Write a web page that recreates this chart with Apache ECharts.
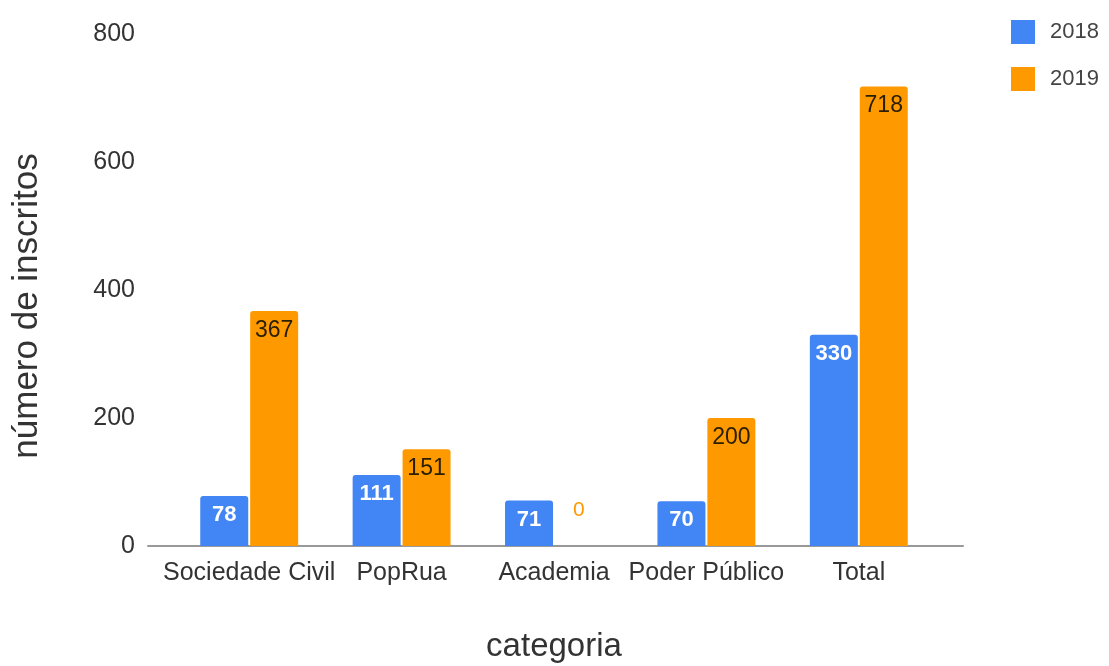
<!DOCTYPE html>
<html>
<head>
<meta charset="utf-8">
<script src="https://cdn.jsdelivr.net/npm/echarts@6/dist/echarts.min.js"></script>
<style>
  html, body { margin: 0; padding: 0; background: #fff; }
  #chart { width: 1109px; height: 666px; }
</style>
</head>
<body>
<div id="chart"></div>
<script>
// Inscritos por categoria, 2018 x 2019
const categories = ['Sociedade Civil', 'PopRua', 'Academia', 'Poder Público', 'Total'];
const years = ['2018', '2019'];
const values2018 = [78, 111, 71, 70, 330];
const values2019 = [367, 151, 0, 200, 718];
const yTicks = [0, 200, 400, 600, 800];

const FONT = '"Liberation Sans", Arial, sans-serif';
const BLUE = '#4285f4';
const ORANGE = '#ff9900';

const yMin = yTicks[0];
const yMax = yTicks[yTicks.length - 1];
const yStep = yTicks[1] - yTicks[0];

// zero-height bars carry their label above the baseline, in the series colour
function withZeroLabels(values, color) {
  return values.map(v => v === 0
    ? { value: v, label: { position: 'top', distance: 25, color: color, fontWeight: 'normal', fontSize: 21 } }
    : v);
}

const chart = echarts.init(document.getElementById('chart'), null, { renderer: 'canvas' });

chart.setOption({
  backgroundColor: '#ffffff',
  animation: false,
  textStyle: { fontFamily: FONT },
  legend: {
    orient: 'vertical',
    left: 1006,
    top: 15,
    itemWidth: 24,
    itemHeight: 24,
    itemGap: 23,
    icon: 'rect',
    data: years,
    textStyle: { fontFamily: FONT, fontSize: 22, color: '#444', padding: [0, 0, 0, 10] }
  },
  grid: [
    // bars
    { left: 173, right: 174, top: 34, bottom: 120, outerBoundsMode: 'none' },
    // baseline and value scale
    { left: 148, right: 146, top: 34, bottom: 120, outerBoundsMode: 'none' }
  ],
  xAxis: [
    {
      type: 'category',
      gridIndex: 0,
      data: categories,
      axisLine: { show: false },
      axisTick: { show: false },
      axisLabel: { fontFamily: FONT, fontSize: 25, color: '#333', margin: 15, interval: 0 },
      name: 'categoria',
      nameLocation: 'middle',
      nameGap: 84,
      nameTextStyle: { fontFamily: FONT, fontSize: 33, color: '#333' }
    },
    {
      type: 'value',
      gridIndex: 1,
      min: 0,
      max: 1,
      axisLine: { show: true, lineStyle: { color: '#999', width: 2 } },
      axisTick: { show: false },
      axisLabel: { show: false },
      splitLine: { show: false }
    }
  ],
  yAxis: [
    {
      type: 'value',
      gridIndex: 0,
      min: yMin,
      max: yMax,
      interval: yStep,
      show: false,
      splitLine: { show: false }
    },
    {
      type: 'value',
      gridIndex: 1,
      min: yMin,
      max: yMax,
      interval: yStep,
      axisLine: { show: false },
      axisTick: { show: false },
      splitLine: { show: false },
      axisLabel: { fontFamily: FONT, fontSize: 25, color: '#333', margin: 13 },
      name: 'número de inscritos',
      nameLocation: 'middle',
      nameGap: 103,
      nameTextStyle: { fontFamily: FONT, fontSize: 35, color: '#333', padding: [0, 32, 0, 0] }
    }
  ],
  series: [
    {
      name: years[0],
      type: 'bar',
      xAxisIndex: 0,
      yAxisIndex: 0,
      data: withZeroLabels(values2018, BLUE),
      barWidth: 48,
      barGap: '4%',
      itemStyle: { color: BLUE, borderRadius: [3, 3, 0, 0] },
      label: {
        show: true,
        position: 'insideTop',
        distance: 8,
        fontFamily: FONT,
        fontSize: 22,
        fontWeight: 'bold',
        color: '#ffffff'
      }
    },
    {
      name: years[1],
      type: 'bar',
      xAxisIndex: 0,
      yAxisIndex: 0,
      data: withZeroLabels(values2019, ORANGE),
      barWidth: 48,
      barGap: '4%',
      itemStyle: { color: ORANGE, borderRadius: [3, 3, 0, 0] },
      label: {
        show: true,
        position: 'insideTop',
        distance: 8,
        fontFamily: FONT,
        fontSize: 23,
        color: '#2a2000'
      }
    }
  ]
});
</script>
</body>
</html>
